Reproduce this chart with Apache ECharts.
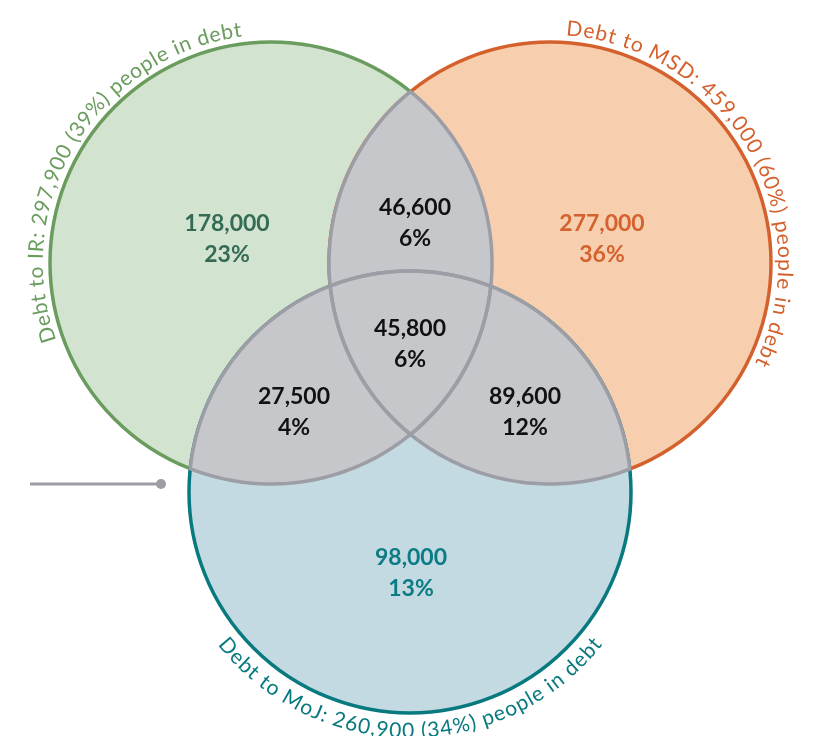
<!DOCTYPE html>
<html><head><meta charset="utf-8">
<script src="https://cdn.jsdelivr.net/npm/echarts@6/dist/echarts.min.js"></script>
<style>html,body{margin:0;padding:0;background:#fff}#main{width:814px;height:736px}</style>
</head><body><div id="main"></div>
<script>
// ---------- data ----------
const setNames = ['Debt to IR', 'Debt to MSD', 'Debt to MoJ'];
const setTotals = [297900, 459000, 260900];
const setShares = [39, 60, 34];
const regionNames = ['IR only', 'MSD only', 'MoJ only', 'IR & MSD', 'IR & MoJ', 'MSD & MoJ', 'IR & MSD & MoJ'];
const regionValues = [178000, 277000, 98000, 46600, 27500, 89600, 45800];
const regionShares = [23, 36, 13, 6, 4, 12, 6];
const pairs = [[0, 1], [0, 2], [1, 2]];

// ---------- layout & style ----------
const W = 814, H = 736;
const circleLayout = [[271, 263], [550, 263], [410, 492]];
const R = 221;
const regionLabelPos = [[227, 239], [602, 239], [411, 573], [415, 223], [294, 412], [525, 412], [410, 344]];
const fills = ['#d2e3cf', '#f7cfae', '#c3dae2'];
const strokes = ['#6a9c5e', '#d4612d', '#08797f'];
const labelColors = ['#336b55', '#d4622f', '#0b7b84', '#111111', '#111111', '#111111', '#111111'];
const grey = '#c6c7ca', greyStroke = '#9c9da5';
const titleLayout = [
  { mid: 211.5, dir: 1, offset: 14, spacing: 1.05 },
  { mid: 330, dir: 1, offset: 14, spacing: 1.3 },
  { mid: 90, dir: -1, offset: 18, spacing: 0.75 }
];
const titleFont = '21px Lato';

const fmt = v => v.toLocaleString('en-US');

function lensPoints(a, b, ra, rb, n) {
  const dx = b[0] - a[0], dy = b[1] - a[1], d = Math.hypot(dx, dy);
  const th = Math.atan2(dy, dx);
  const aa = Math.acos((d * d + ra * ra - rb * rb) / (2 * d * ra));
  const ab = Math.acos((d * d + rb * rb - ra * ra) / (2 * d * rb));
  const pts = [];
  for (let k = 0; k <= n; k++) { const t = th - aa + 2 * aa * k / n; pts.push([a[0] + ra * Math.cos(t), a[1] + ra * Math.sin(t)]); }
  for (let k = 0; k <= n; k++) { const t = th + Math.PI - ab + 2 * ab * k / n; pts.push([b[0] + rb * Math.cos(t), b[1] + rb * Math.sin(t)]); }
  return pts;
}

const mctx = document.createElement('canvas').getContext('2d');
function charWidths(str, font) { mctx.font = font; return [...str].map(ch => mctx.measureText(ch).width); }

function renderCircle(params, api) {
  const i = api.value(0);
  const c = api.coord(circleLayout[i]);
  const r = api.size([R, 0])[0];
  return { type: 'circle', shape: { cx: c[0], cy: c[1], r: r }, style: { fill: fills[i], stroke: strokes[i], lineWidth: 3.5 } };
}
function lensShape(api) {
  const i = api.value(0), j = api.value(1);
  const a = api.coord(circleLayout[i]), b = api.coord(circleLayout[j]);
  const r = api.size([R, 0])[0];
  return lensPoints(a, b, r, r, 90);
}
function renderLensFill(params, api) {
  return { type: 'polygon', shape: { points: lensShape(api) }, style: { fill: grey } };
}
function renderLensStroke(params, api) {
  return { type: 'polygon', shape: { points: lensShape(api) }, style: { fill: 'none', stroke: greyStroke, lineWidth: 3.5, lineJoin: 'round' } };
}
function renderRegionLabel(params, api) {
  const k = params.dataIndex;
  const p = api.coord(regionLabelPos[k]);
  return {
    type: 'text', x: p[0], y: p[1],
    style: {
      text: fmt(api.value(0)) + '\n' + api.value(1) + '%',
      fill: labelColors[k], font: 'bold 23px Lato', lineHeight: 31,
      align: 'center', verticalAlign: 'middle'
    }
  };
}
function renderTitle(params, api) {
  const i = params.dataIndex;
  const text = setNames[i] + ': ' + fmt(api.value(0)) + ' (' + api.value(1) + '%) people in debt';
  const { mid, dir, offset, spacing } = titleLayout[i];
  const c = api.coord(circleLayout[i]);
  const r = api.size([R, 0])[0] + offset;
  const ws = charWidths(text, titleFont);
  const chars = [...text];
  const total = ws.reduce((s, w) => s + w, 0) + spacing * (chars.length - 1);
  const start = mid * Math.PI / 180 - dir * total / r / 2;
  const children = [];
  let s = 0;
  chars.forEach((ch, k) => {
    const sc = s + ws[k] / 2;
    const th = start + dir * sc / r;
    s += ws[k] + spacing;
    if (ch === ' ') return;
    children.push({
      type: 'text', x: c[0] + r * Math.cos(th), y: c[1] + r * Math.sin(th),
      rotation: dir > 0 ? -(th + Math.PI / 2) : -(th - Math.PI / 2),
      style: { text: ch, font: titleFont, fill: strokes[i], align: 'center', verticalAlign: 'middle' }
    });
  });
  return { type: 'group', children: children };
}

const chart = echarts.init(document.getElementById('main'), null, { renderer: 'canvas' });
chart.setOption({
  animation: false,
  grid: { left: 0, right: 0, top: 0, bottom: 0 },
  xAxis: { type: 'value', min: 0, max: W, show: false },
  yAxis: { type: 'value', min: 0, max: H, inverse: true, show: false },
  graphic: [
    { type: 'line', shape: { x1: 30, y1: 484, x2: 158, y2: 484 }, style: { stroke: greyStroke, lineWidth: 3 }, z: 10 },
    { type: 'circle', shape: { cx: 161, cy: 484, r: 5 }, style: { fill: greyStroke }, z: 10 }
  ],
  series: [
    { type: 'custom', name: 'sets', renderItem: renderCircle, data: setNames.map((n, i) => [i, setTotals[i]]), z: 1, silent: true },
    { type: 'custom', name: 'overlaps', renderItem: renderLensFill, data: pairs, z: 2, silent: true },
    { type: 'custom', name: 'overlapEdges', renderItem: renderLensStroke, data: pairs, z: 3, silent: true },
    { type: 'custom', name: 'regions', renderItem: renderRegionLabel, data: regionValues.map((v, k) => [v, regionShares[k]]), z: 4, silent: true },
    { type: 'custom', name: 'setLabels', renderItem: renderTitle, data: setTotals.map((v, i) => [v, setShares[i]]), z: 5, silent: true }
  ]
});
</script></body></html>
